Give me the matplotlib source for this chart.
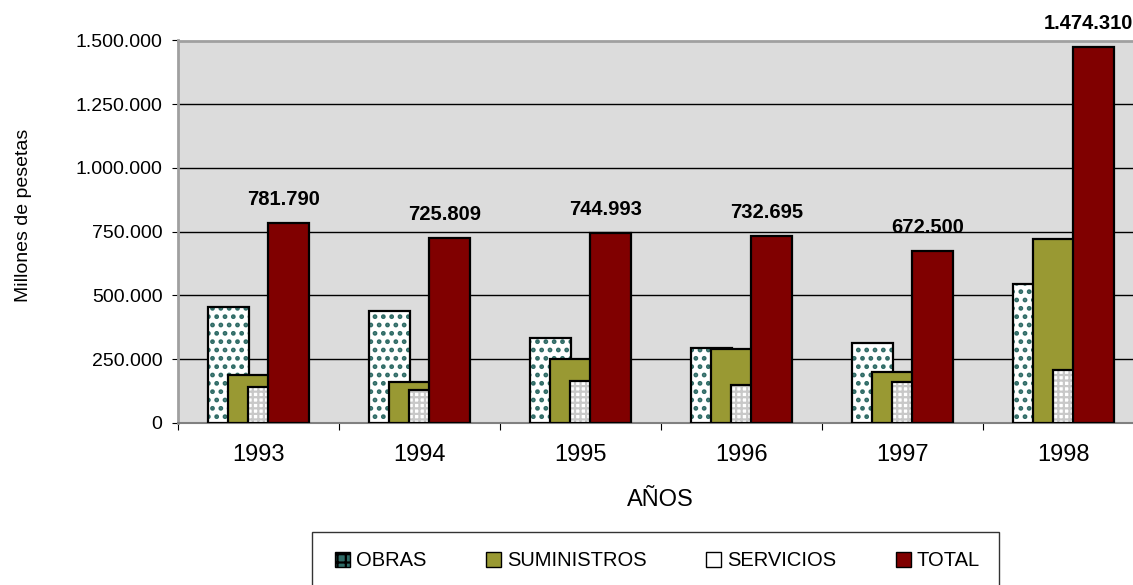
#!/usr/bin/env python3

import matplotlib
matplotlib.use("Agg")
import matplotlib.pyplot as plt
from matplotlib.patches import Patch, Rectangle

plt.rcParams['font.family'] = ['Liberation Sans', 'DejaVu Sans']
plt.rcParams['hatch.linewidth'] = 1.6

# datos (millones de pesetas)
years = ["1993", "1994", "1995", "1996", "1997", "1998"]
obras = [456000, 438000, 331000, 294000, 312000, 545000]
suministros = [186000, 161000, 249000, 290000, 199000, 721000]
servicios = [140000, 127000, 165000, 149000, 161000, 208000]
total = [781790, 725809, 744993, 732695, 672500, 1474310]

W, H = 1133, 585
fig = plt.figure(figsize=(W / 100, H / 100), dpi=100)
ax = fig.add_axes([177.7 / W, 162.3 / H, 966 / W, 382.2 / H])
ax.set_facecolor('#dcdcdc')

x = list(range(len(years)))
bw = 0.255
step = 0.124

def pos(k):
    return [i + (k - 1.5) * step for i in x]

# OBRAS: fondo blanco con puntos
ob = ax.bar(pos(0), obras, bw, color='white', hatch='..', edgecolor='#2f6b66',
            linewidth=0, zorder=3)
for r in ob:
    if hasattr(r, 'set_hatch_linewidth'):
        r.set_hatch_linewidth(2.2)
ax.bar(pos(0), obras, bw, fill=False, edgecolor='black', linewidth=1.6, zorder=3.1)
# SUMINISTROS
ax.bar(pos(1), suministros, bw, color='#999933', edgecolor='black',
       linewidth=1.6, zorder=3.2)
# SERVICIOS: cuadricula gris
ax.bar(pos(2), servicios, bw, color='white', hatch='+++', edgecolor='#c8c8c8',
       linewidth=0, zorder=3.3)
ax.bar(pos(2), servicios, bw, fill=False, edgecolor='black', linewidth=1.6, zorder=3.4)
# TOTAL
tb = ax.bar(pos(3), total, bw, color='#800000', edgecolor='black',
            linewidth=1.6, zorder=3.5)

for rect, v in zip(tb, total):
    ax.annotate(f"{v:,}".replace(",", "."),
                (rect.get_x() + rect.get_width() / 2, v),
                xytext=(-3.5, 17), textcoords='offset points',
                ha='center', va='center', fontsize=14.5, fontweight='bold',
                annotation_clip=False)

ax.set_xlim(-0.5, len(years) - 0.5)
ax.set_ylim(0, 1500000)
ax.set_yticks(range(0, 1500001, 250000))
ax.set_yticklabels([f"{v:,}".replace(",", ".") for v in range(0, 1500001, 250000)])
ax.yaxis.grid(True, color='black', linewidth=1)
ax.set_axisbelow(True)
ax.tick_params(axis='y', labelsize=14, length=4.3, pad=6.7, color='black')

ax.set_xticks([i - 0.5 for i in range(len(years) + 1)])
ax.set_xticklabels([])
ax.set_xticks(x, minor=True)
ax.set_xticklabels(years, minor=True)
ax.tick_params(axis='x', which='major', length=5, color='black')
ax.tick_params(axis='x', which='minor', length=0, labelsize=17, pad=15)

for s in ['left', 'top', 'right']:
    ax.spines[s].set_color('#a0a0a0')
    ax.spines[s].set_linewidth(2)
ax.spines['bottom'].set_color('#808080')
ax.spines['bottom'].set_linewidth(1.5)

fig.text(660 / W, 1 - 500 / H, "AÑOS", ha='center', va='center', fontsize=17)
fig.text(23 / W, 1 - 215 / H, "Millones de pesetas", ha='center', va='center',
         rotation=90, fontsize=14)

# marco de la leyenda
fig.patches.append(Rectangle((312 / W, -20 / H), 687 / W, (53 + 20) / H,
                             transform=fig.transFigure, fill=False,
                             edgecolor='#333333', linewidth=1))

handles = [
    Patch(facecolor='#2f6b66', edgecolor='black', hatch='++'),
    Patch(facecolor='#999933', edgecolor='black'),
    Patch(facecolor='white', edgecolor='black'),
    Patch(facecolor='#800000', edgecolor='black'),
]
leg = fig.legend(handles, ["OBRAS", "SUMINISTROS", "SERVICIOS", "TOTAL"],
                 loc='center', bbox_to_anchor=(657.5 / W, 1 - 561 / H), ncol=4,
                 fontsize=14.5, frameon=False, handlelength=0.75,
                 handleheight=0.75, handletextpad=0.3, columnspacing=2.95,
                 borderpad=0.2)

plt.savefig("out.png", dpi=100)
